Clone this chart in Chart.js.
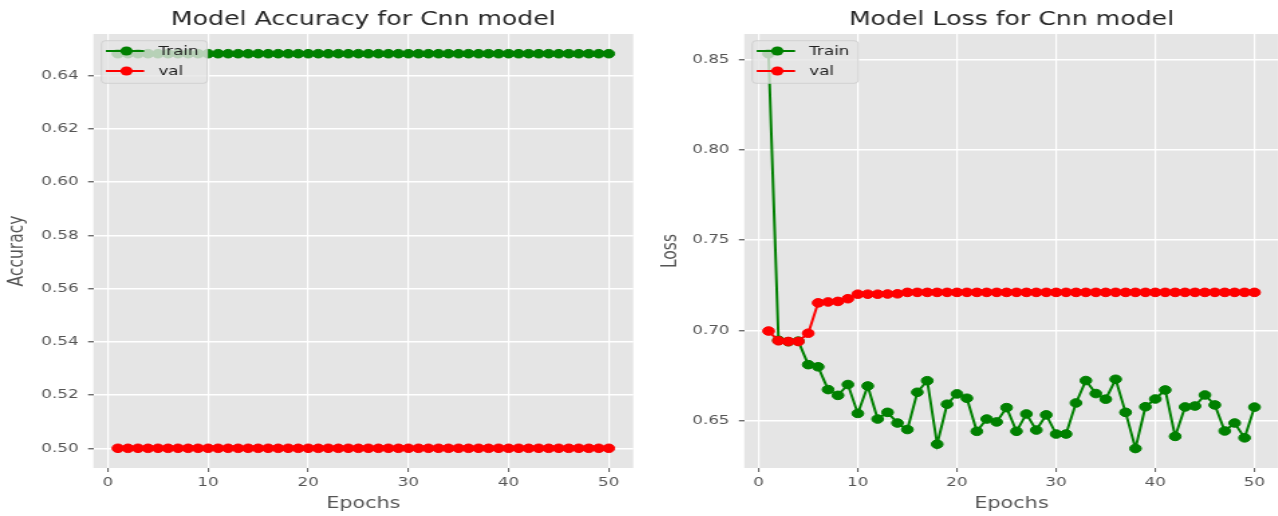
<!DOCTYPE html>
<html>
<head>
<meta charset="utf-8">
<script src="https://cdn.jsdelivr.net/npm/chart.js@4.4.1/dist/chart.umd.min.js"></script>
<style>
  html, body { margin: 0; padding: 0; background: #fff; overflow: hidden; width: 1278px; height: 516px; }
  /* the reference picture is stretched sideways, so the panels are too */
  .panel { position: absolute; top: 0; height: 516px; transform: scaleX(1.34); transform-origin: 0 0; }
  #wrapAcc { left: 0; width: 478px; }
  #wrapLoss { left: 640px; width: 482px; }
</style>
</head>
<body>
<div class="panel" id="wrapAcc"><canvas id="accChart"></canvas></div>
<div class="panel" id="wrapLoss"><canvas id="lossChart"></canvas></div>
<script>
const epochs = [1, 2, 3, 4, 5, 6, 7, 8, 9, 10, 11, 12, 13, 14, 15, 16, 17, 18, 19, 20,
    21, 22, 23, 24, 25, 26, 27, 28, 29, 30, 31, 32, 33, 34, 35, 36, 37, 38, 39, 40,
    41, 42, 43, 44, 45, 46, 47, 48, 49, 50];

const accTrain = [0.6483, 0.6483, 0.6483, 0.6483, 0.6483, 0.6483, 0.6483, 0.6483, 0.6483, 0.6483,
    0.6483, 0.6483, 0.6483, 0.6483, 0.6483, 0.6483, 0.6483, 0.6483, 0.6483, 0.6483,
    0.6483, 0.6483, 0.6483, 0.6483, 0.6483, 0.6483, 0.6483, 0.6483, 0.6483, 0.6483,
    0.6483, 0.6483, 0.6483, 0.6483, 0.6483, 0.6483, 0.6483, 0.6483, 0.6483, 0.6483,
    0.6483, 0.6483, 0.6483, 0.6483, 0.6483, 0.6483, 0.6483, 0.6483, 0.6483, 0.6483];
const accVal = [0.5, 0.5, 0.5, 0.5, 0.5, 0.5, 0.5, 0.5, 0.5, 0.5,
    0.5, 0.5, 0.5, 0.5, 0.5, 0.5, 0.5, 0.5, 0.5, 0.5,
    0.5, 0.5, 0.5, 0.5, 0.5, 0.5, 0.5, 0.5, 0.5, 0.5,
    0.5, 0.5, 0.5, 0.5, 0.5, 0.5, 0.5, 0.5, 0.5, 0.5,
    0.5, 0.5, 0.5, 0.5, 0.5, 0.5, 0.5, 0.5, 0.5, 0.5];

const lossTrain = [0.8531, 0.6945, 0.6937, 0.6940, 0.6810, 0.6798, 0.6672, 0.6640, 0.6700, 0.6540,
    0.6692, 0.6509, 0.6546, 0.6487, 0.6451, 0.6657, 0.6721, 0.6370, 0.6591, 0.6648,
    0.6624, 0.6441, 0.6509, 0.6493, 0.6572, 0.6441, 0.6537, 0.6448, 0.6532, 0.6426,
    0.6426, 0.6598, 0.6722, 0.6650, 0.6619, 0.6729, 0.6546, 0.6346, 0.6577, 0.6620,
    0.6670, 0.6413, 0.6576, 0.6581, 0.6642, 0.6587, 0.6443, 0.6487, 0.6405, 0.6575];
const lossVal = [0.6996, 0.6942, 0.6938, 0.6938, 0.6984, 0.7152, 0.7157, 0.7160, 0.7175, 0.7200,
    0.7200, 0.7200, 0.7201, 0.7202, 0.7210, 0.7210, 0.7210, 0.7210, 0.7210, 0.7210,
    0.7210, 0.7210, 0.7210, 0.7210, 0.7210, 0.7210, 0.7210, 0.7210, 0.7210, 0.7210,
    0.7210, 0.7210, 0.7210, 0.7210, 0.7210, 0.7210, 0.7210, 0.7210, 0.7210, 0.7210,
    0.7210, 0.7210, 0.7210, 0.7210, 0.7210, 0.7210, 0.7210, 0.7210, 0.7210, 0.7210];

const xTicks = [0, 10, 20, 30, 40, 50];
const accTicks = [0.50, 0.52, 0.54, 0.56, 0.58, 0.60, 0.62, 0.64];
const lossTicks = [0.65, 0.70, 0.75, 0.80, 0.85];

Chart.defaults.font.family = '"DejaVu Sans", sans-serif';
Chart.defaults.animation = false;

// title centred over the plot area, like matplotlib does it
const panelTitle = {
    id: 'panelTitle',
    afterDraw(chart, args, opts) {
        const { ctx, chartArea } = chart;
        ctx.save();
        ctx.font = '18.8px "DejaVu Sans"';
        ctx.fillStyle = '#262626';
        ctx.textAlign = 'center';
        ctx.textBaseline = 'alphabetic';
        ctx.fillText(opts.text, (chartArea.left + chartArea.right) / 2, 25);
        ctx.restore();
    }
};

// legend box in the upper left corner, drawn over the lines
const boxLegend = {
    id: 'boxLegend',
    afterDatasetsDraw(chart) {
        const { ctx, chartArea } = chart;
        const L = chartArea.left, T = chartArea.top;
        const x = L + 6, y = T + 6.7, w = 79, h = 42.6, r = 3;
        ctx.save();
        ctx.beginPath();
        ctx.moveTo(x + r, y);
        ctx.arcTo(x + w, y, x + w, y + h, r);
        ctx.arcTo(x + w, y + h, x, y + h, r);
        ctx.arcTo(x, y + h, x, y, r);
        ctx.arcTo(x, y, x + w, y, r);
        ctx.closePath();
        ctx.fillStyle = 'rgba(229,229,229,0.8)';
        ctx.fill();
        ctx.strokeStyle = 'rgba(204,204,204,0.8)';
        ctx.lineWidth = 1;
        ctx.stroke();

        const items = chart.data.datasets.slice().sort((a, b) => a.legendIndex - b.legendIndex);
        items.forEach((ds, i) => {
            const ry = T + 17 + i * 20;
            ctx.strokeStyle = ds.borderColor;
            ctx.lineWidth = 2;
            ctx.beginPath();
            ctx.moveTo(L + 9.3, ry);
            ctx.lineTo(L + 37.9, ry);
            ctx.stroke();
            ctx.fillStyle = ds.borderColor;
            ctx.beginPath();
            ctx.arc(L + 24.7, ry, 4.6, 0, Math.PI * 2);
            ctx.fill();
            ctx.fillStyle = '#222';
            ctx.font = '12.5px "DejaVu Sans"';
            ctx.textAlign = 'left';
            ctx.textBaseline = 'middle';
            ctx.fillText(ds.label, L + 48.5, ry + 0.5);
        });
        ctx.restore();
    }
};

function series(label, values, color, order, legendIndex) {
    return {
        label: label,
        data: epochs.map((e, i) => ({ x: e, y: values[i] })),
        borderColor: color,
        backgroundColor: color,
        pointBackgroundColor: color,
        pointBorderColor: color,
        pointRadius: 4.3,
        pointBorderWidth: 1,
        borderWidth: 2,
        tension: 0,
        order: order,
        legendIndex: legendIndex
    };
}

function renderPanel(canvasId, opts) {
    const ctx = document.getElementById(canvasId).getContext('2d');
    new Chart(ctx, {
        type: 'line',
        data: {
            datasets: [
                series('val', opts.val, '#ff0000', 0, 1),
                series('Train', opts.train, '#008000', 1, 0)
            ]
        },
        options: {
            responsive: true,
            maintainAspectRatio: false,
            layout: { padding: { left: 0, right: opts.padRight, top: 34, bottom: 0 } },
            plugins: {
                legend: { display: false },
                tooltip: { enabled: false },
                panelTitle: { text: opts.title }
            },
            scales: {
                x: {
                    type: 'linear',
                    min: -1.45,
                    max: opts.xMax,
                    afterBuildTicks: s => { s.ticks = xTicks.map(v => ({ value: v })); },
                    afterFit: s => { s.height = 48; },
                    ticks: { color: '#555', font: { size: 12.5 }, padding: 3, maxRotation: 0, callback: v => String(v) },
                    grid: { color: '#ffffff', lineWidth: 1.2, tickColor: '#555', tickLength: 4, tickWidth: 1 },
                    border: { display: false },
                    title: { display: true, text: 'Epochs', color: '#555', font: { size: 15.5 }, padding: { top: 0, bottom: 3.2 } }
                },
                y: {
                    type: 'linear',
                    min: opts.yMin,
                    max: opts.yMax,
                    afterBuildTicks: s => { s.ticks = opts.yTicks.map(v => ({ value: v })); },
                    afterFit: s => { s.width = opts.yWidth; },
                    ticks: { color: '#555', font: { size: 12.5 }, padding: 7, callback: v => v.toFixed(2) },
                    grid: { color: '#ffffff', lineWidth: 1.5, tickColor: '#555', tickLength: 4, tickWidth: 1.2 },
                    border: { display: false },
                    title: { display: true, text: opts.yLabel, color: '#555', font: { size: 15.5 }, padding: { top: opts.yTitlePad, bottom: 0 } }
                }
            }
        },
        plugins: [
            {
                id: 'plotBg',
                beforeDraw(chart) {
                    const { ctx, chartArea: a } = chart;
                    ctx.save();
                    ctx.fillStyle = '#e5e5e5';
                    ctx.fillRect(a.left, a.top, a.right - a.left, a.bottom - a.top);
                    ctx.restore();
                }
            },
            boxLegend,
            panelTitle
        ]
    });
}

renderPanel('accChart', {
    title: 'Model Accuracy for Cnn model',
    train: accTrain, val: accVal,
    yMin: 0.4926, yMax: 0.6557, yTicks: accTicks,
    yLabel: 'Accuracy', yWidth: 69.7, yTitlePad: 3.4,
    xMax: 52.45, padRight: 5.4
});

renderPanel('lossChart', {
    title: 'Model Loss for Cnn model',
    train: lossTrain, val: lossVal,
    yMin: 0.6238, yMax: 0.864, yTicks: lossTicks,
    yLabel: 'Loss', yWidth: 77.8, yTitlePad: 13.4,
    xMax: 52.45, padRight: 1.2
});
</script>
</body>
</html>
